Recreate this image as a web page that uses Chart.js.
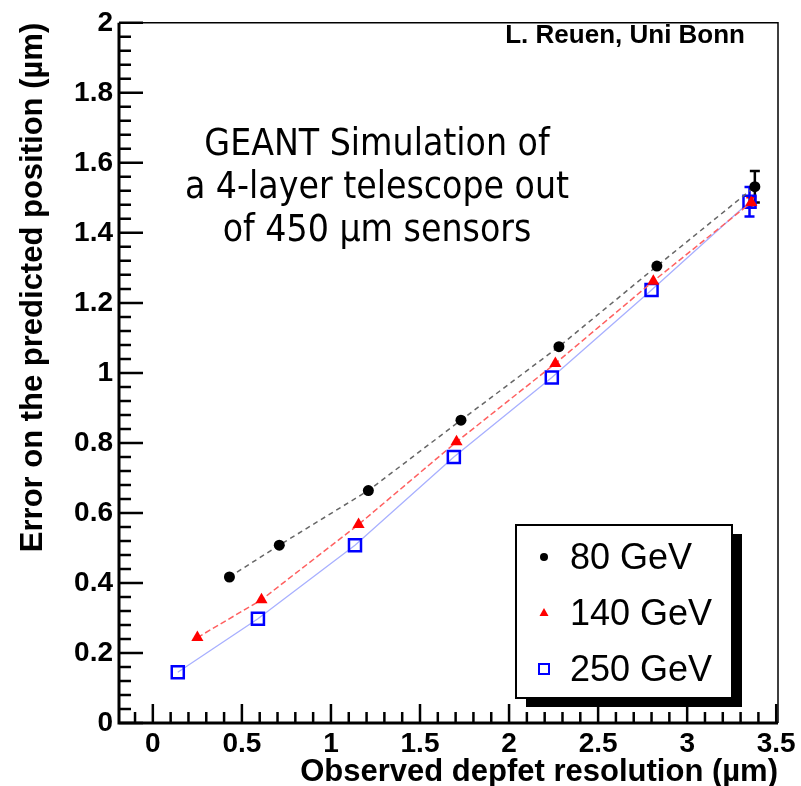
<!DOCTYPE html>
<html>
<head>
<meta charset="utf-8">
<script src="https://cdn.jsdelivr.net/npm/chart.js@4/dist/chart.umd.min.js"></script>
<style>
  html, body { margin: 0; padding: 0; background: #fff; }
  canvas { display: block; }
</style>
</head>
<body>
<canvas id="resChart" width="801" height="786"></canvas>
<script>
// observed depfet resolution (um) and error on predicted position (um)
const res80  = [0.43, 0.71, 1.21, 1.73, 2.28, 2.83, 3.38];
const err80  = [0.417, 0.508, 0.664, 0.865, 1.075, 1.305, 1.532];
const sig80  = [0, 0, 0, 0, 0, 0, 0.045];

const res140 = [0.25, 0.61, 1.155, 1.705, 2.26, 2.81, 3.36];
const err140 = [0.244, 0.352, 0.567, 0.803, 1.027, 1.262, 1.487];
const sig140 = [0, 0, 0, 0, 0, 0, 0.015];

const res250 = [0.14, 0.59, 1.135, 1.69, 2.24, 2.80, 3.35];
const err250 = [0.145, 0.298, 0.508, 0.760, 0.987, 1.237, 1.489];
const sig250 = [0, 0, 0, 0, 0, 0, 0.042];

const seriesLabels = ['80 GeV', '140 GeV', '250 GeV'];
const xTickValues = [0, 0.5, 1, 1.5, 2, 2.5, 3, 3.5];
const yTickValues = [0, 0.2, 0.4, 0.6, 0.8, 1, 1.2, 1.4, 1.6, 1.8, 2];
const simText = ['GEANT Simulation of', 'a 4-layer telescope out', 'of 450 \u00b5m sensors'];
const authorText = 'L. Reuen, Uni Bonn';

function toPoints(xs, ys) {
    return xs.map((x, i) => ({ x: x, y: ys[i] }));
}

const sigmas = [sig80, sig140, sig250];
const colors = ['#000000', '#ff0000', '#0000ff'];

// error bars, frame, inner ticks, legend box and text labels
const decorations = {
    id: 'decorations',
    beforeDatasetsDraw(chart) {
        const ctx = chart.ctx;
        const xs = chart.scales.x, ys = chart.scales.y;
        chart.data.datasets.forEach((ds, di) => {
            ctx.save();
            ctx.strokeStyle = colors[di];
            ctx.lineWidth = 2.5;
            ds.data.forEach((p, i) => {
                const s = sigmas[di][i];
                if (!s) return;
                const px = xs.getPixelForValue(p.x);
                const top = ys.getPixelForValue(p.y + s);
                const bot = ys.getPixelForValue(p.y - s);
                ctx.beginPath();
                ctx.moveTo(px, top); ctx.lineTo(px, bot);
                ctx.moveTo(px - 5, top); ctx.lineTo(px + 5, top);
                ctx.moveTo(px - 5, bot); ctx.lineTo(px + 5, bot);
                ctx.stroke();
            });
            ctx.restore();
        });
    },
    afterDraw(chart) {
        const ctx = chart.ctx;
        const a = chart.chartArea;
        const xs = chart.scales.x, ys = chart.scales.y;
        ctx.save();
        ctx.strokeStyle = '#000';

        // frame
        ctx.lineWidth = 1.5;
        ctx.beginPath();
        ctx.moveTo(a.left, a.top); ctx.lineTo(a.right, a.top); ctx.lineTo(a.right, a.bottom);
        ctx.stroke();
        ctx.lineWidth = 3;
        ctx.beginPath();
        ctx.moveTo(a.left, a.top); ctx.lineTo(a.left, a.bottom); ctx.lineTo(a.right, a.bottom);
        ctx.stroke();

        // ticks pointing into the plot
        ctx.lineWidth = 2.5;
        ctx.beginPath();
        for (let k = -1; k <= 35; k++) {
            const v = k / 10;
            const px = xs.getPixelForValue(v);
            if (px < a.left + 2 || px > a.right - 1) continue;
            const len = (k % 5 === 0) ? 19 : 11;
            ctx.moveTo(px, a.bottom); ctx.lineTo(px, a.bottom - len);
        }
        for (let k = 0; k <= 50; k++) {
            const v = k * 0.04;
            const py = ys.getPixelForValue(v);
            const len = (k % 5 === 0) ? 24 : 12;
            ctx.moveTo(a.left, py); ctx.lineTo(a.left + len, py);
        }
        ctx.stroke();

        // simulation note
        ctx.fillStyle = '#000';
        ctx.textAlign = 'center';
        ctx.textBaseline = 'alphabetic';
        ctx.font = '37px "DejaVu Sans Condensed", "Open Sans", sans-serif';
        simText.forEach((t, i) => ctx.fillText(t, 377, 155 + i * 43));

        ctx.textAlign = 'right';
        ctx.font = 'bold 26px "Liberation Sans", Arial, sans-serif';
        ctx.fillText(authorText, 745, 43);

        // legend
        const bx = 516, by = 525, bw = 216, bh = 173;
        ctx.fillStyle = '#000';
        ctx.fillRect(bx + 10, by + 9, bw, bh);
        ctx.fillStyle = '#fff';
        ctx.fillRect(bx, by, bw, bh);
        ctx.lineWidth = 2;
        ctx.strokeRect(bx, by, bw, bh);

        ctx.textAlign = 'left';
        ctx.textBaseline = 'middle';
        ctx.font = '36px "Liberation Sans", Arial, sans-serif';
        seriesLabels.forEach((lab, i) => {
            const cy = 557 + i * 56;
            const mx = 544;
            if (i === 0) {
                ctx.fillStyle = '#000';
                ctx.beginPath(); ctx.arc(mx, cy, 4, 0, Math.PI * 2); ctx.fill();
            } else if (i === 1) {
                ctx.fillStyle = '#ff0000';
                ctx.beginPath();
                ctx.moveTo(mx, cy - 5); ctx.lineTo(mx + 4.5, cy + 3); ctx.lineTo(mx - 4.5, cy + 3);
                ctx.closePath(); ctx.fill();
            } else {
                ctx.strokeStyle = '#0000ff';
                ctx.lineWidth = 2;
                ctx.strokeRect(mx - 5, cy - 5, 10, 10);
            }
            ctx.fillStyle = '#000';
            ctx.fillText(lab, 570, cy + 2);
        });
        ctx.restore();
    }
};

const ctx = document.getElementById('resChart').getContext('2d');

new Chart(ctx, {
    type: 'scatter',
    data: {
        datasets: [{
            label: seriesLabels[0],
            data: toPoints(res80, err80),
            showLine: true,
            borderColor: '#666666',
            borderWidth: 1.5,
            borderDash: [5, 4],
            pointStyle: 'circle',
            pointRadius: 5.5,
            pointBackgroundColor: '#000',
            pointBorderColor: '#000',
            pointBorderWidth: 0
        }, {
            label: seriesLabels[1],
            data: toPoints(res140, err140),
            showLine: true,
            borderColor: '#ff6060',
            borderWidth: 1.5,
            borderDash: [6, 3],
            pointStyle: 'triangle',
            pointRadius: 7,
            pointBackgroundColor: '#ff0000',
            pointBorderColor: '#ff0000',
            pointBorderWidth: 0
        }, {
            label: seriesLabels[2],
            data: toPoints(res250, err250),
            showLine: true,
            borderColor: '#a8b0ff',
            borderWidth: 1.3,
            pointStyle: 'rect',
            pointRadius: 8.5,
            pointBackgroundColor: 'rgba(255,255,255,0)',
            pointBorderColor: '#0000ff',
            pointBorderWidth: 2.5
        }]
    },
    options: {
        responsive: false,
        animation: false,
        layout: { padding: { left: 0, top: 18, right: 23, bottom: 0 } },
        plugins: {
            legend: { display: false },
            tooltip: { enabled: false }
        },
        scales: {
            x: {
                type: 'linear',
                min: -0.19,
                max: 3.51,
                afterFit: s => { s.height = 63; },
                afterBuildTicks: s => { s.ticks = xTickValues.map(v => ({ value: v })); },
                grid: { display: false, drawTicks: false },
                border: { display: false },
                ticks: {
                    padding: 4,
                    color: '#000',
                    maxRotation: 0,
                    autoSkip: false,
                    font: { family: '"Liberation Sans", Arial, sans-serif', size: 28, weight: 'bold' },
                    callback: v => String(v)
                },
                title: {
                    display: true,
                    text: 'Observed depfet resolution (\u00b5m)',
                    align: 'end',
                    color: '#000',
                    padding: { top: 0, bottom: -2 },
                    font: { family: '"Liberation Sans", Arial, sans-serif', size: 31, weight: 'bold', lineHeight: 1 }
                }
            },
            y: {
                type: 'linear',
                min: 0,
                max: 2,
                afterFit: s => { s.width = 119; },
                afterBuildTicks: s => { s.ticks = yTickValues.map(v => ({ value: v })); },
                grid: { display: false, drawTicks: false },
                border: { display: false },
                ticks: {
                    padding: 6,
                    color: '#000',
                    autoSkip: false,
                    font: { family: '"Liberation Sans", Arial, sans-serif', size: 28, weight: 'bold' },
                    callback: v => String(v)
                },
                title: {
                    display: true,
                    text: 'Error on the predicted position (\u00b5m)',
                    align: 'end',
                    color: '#000',
                    padding: { top: 18, bottom: 0 },
                    font: { family: '"Liberation Sans", Arial, sans-serif', size: 31, weight: 'bold', lineHeight: 1 }
                }
            }
        }
    },
    plugins: [decorations]
});
</script>
</body>
</html>
